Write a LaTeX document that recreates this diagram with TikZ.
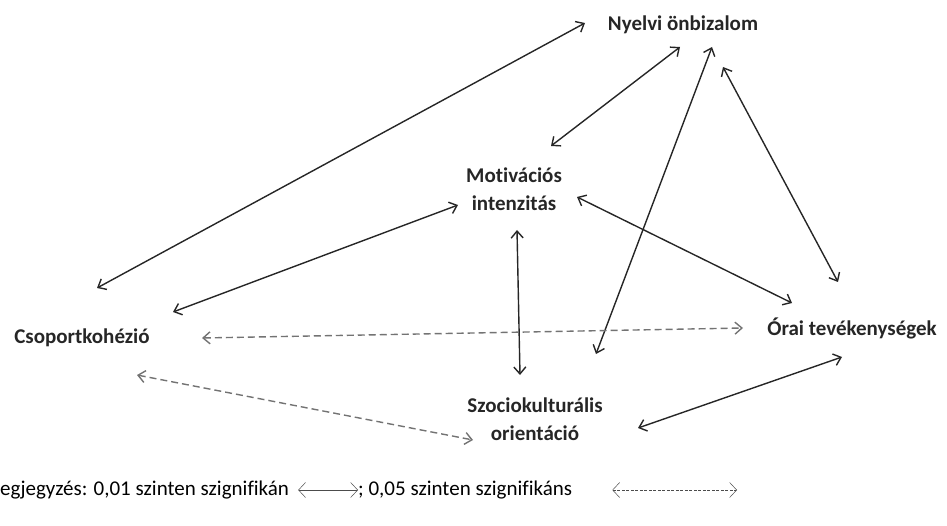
\documentclass[tikz,border=0pt]{standalone}
\usepackage{fontspec}
\setmainfont{Carlito}[Ligatures=NoCommon]
\usetikzlibrary{arrows.meta}
\tikzset{
  factor/.style={font=\fontsize{21}{28}\selectfont\bfseries, text=black!85, align=center, inner sep=0pt},
  sig/.style={{Straight Barb[length=7pt,width=12pt]}-{Straight Barb[length=7pt,width=12pt]}, line width=1.4pt, draw=black!85},
  weak/.style={sig, draw=black!55, dash pattern=on 7pt off 4pt},
  legtext/.style={font=\fontsize{21}{24}\selectfont, anchor=west, inner sep=0pt},
  legarrow/.style={{Straight Barb[length=7pt,width=15pt]}-{Straight Barb[length=7pt,width=15pt]}, line width=0.5pt, draw=black!70},
}
\begin{document}
\begin{tikzpicture}[x=1pt,y=-1pt]
	    \useasboundingbox (0,0) rectangle (947,526);
	    % factors
	    \node[factor] (ny) at (683,25) {Nyelvi önbizalom};
	    \node[factor] (mot) at (514,189) {Motivációs\\intenzitás};
	    \node[factor] (cs) at (82,338) {Csoportkohézió};
	    \node[factor] (or) at (852,328) {Órai tevékenységek};
	    \node[factor] (sz) at (535,419) {Szociokulturális\\orientáció};
	    % 0,01 level
	    \draw[sig] ([shift={(15,-50)}]cs.center) -- ([shift={(-98,-2)}]ny.center);
	    \draw[sig] ([shift={(37,-43)}]mot.center) -- ([shift={(-3,22)}]ny.center);
	    \draw[sig] ([shift={(61,-65)}]sz.center) -- ([shift={(29,22)}]ny.center);
	    \draw[sig] ([shift={(-14,-46)}]or.center) -- ([shift={(40,42)}]ny.center);
	    \draw[sig] ([shift={(91,-26)}]cs.center) -- ([shift={(-56,16)}]mot.center);
	    \draw[sig] ([shift={(63,8)}]mot.center) -- ([shift={(-60,-25)}]or.center);
	    \draw[sig] ([shift={(3,41)}]mot.center) -- ([shift={(-15,-44)}]sz.center);
	    \draw[sig] ([shift={(103,9)}]sz.center) -- ([shift={(-10,29)}]or.center);
	    % 0,05 level
	    \draw[weak] ([shift={(120,0)}]cs.center) -- ([shift={(-109,0)}]or.center);
	    \draw[weak] ([shift={(55,37)}]cs.center) -- ([shift={(-62,21)}]sz.center);
	    % legend
	    \node[legtext] (leg1) at (0,490) {egjegyzés: 0,01 szinten szignifikán};
	    \node[legtext] (leg2) at (358,490) {; 0,05 szinten szignifikáns};
	    \coordinate (legend end) at (737,490);
	    \draw[legarrow] ([xshift=9pt]leg1.east) -- (leg2.west);
	    \draw[legarrow, dash pattern=on 3pt off 1.5pt] ([xshift=40pt]leg2.east) -- (legend end);
\end{tikzpicture}
\end{document}
